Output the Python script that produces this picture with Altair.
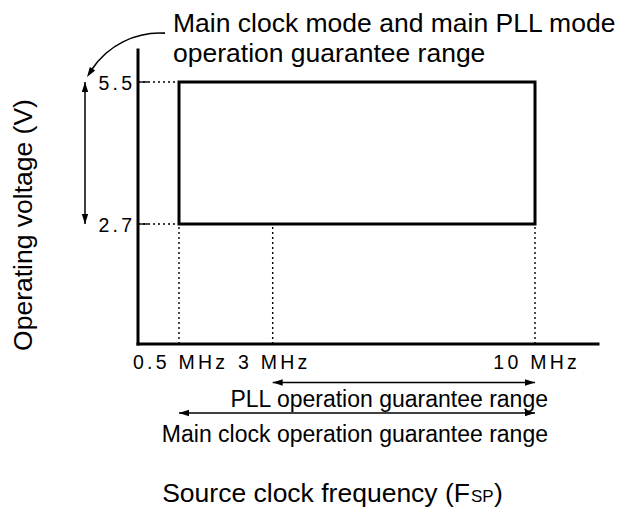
import altair as alt
import pandas as pd

# ---------------- data ----------------
freq_ticks = [0.5, 3, 10]                 # MHz
freq_labels = ["0.5 MHz", "3 MHz", "10 MHz"]
volt_ticks = [5.5, 2.7]                   # V
volt_labels = ["5.5", "2.7"]
box_freq = [0.5, 10]                      # main clock / main PLL mode range
box_volt = [2.7, 5.5]
range_start = [3, 0.5]
range_end = [10, 10]
range_labels = ["PLL operation guarantee range",
                "Main clock operation guarantee range"]
top_note = ["Main clock mode and main PLL mode", "operation guarantee range"]
y_title = "Operating voltage (V)"
x_title = ["Source clock frequency (F", "SP", ")"]

X_DOM = [-0.594, 11.681]
Y_DOM = [0.334, 6.131]
W, H = 460, 294
FONT = "Liberation Sans"
ARROW = "M0,0L-0.32,1L0.32,1Z"   # tip at the anchor point, pointing up
SP = "\u2006"

xs = alt.Scale(domain=X_DOM, nice=False, zero=False)
ys = alt.Scale(domain=Y_DOM, nice=False, zero=False)

def spaced(s):
    return SP.join(list(s))

one = pd.DataFrame({"k": [0]})

# axes lines
xa_df = pd.DataFrame({"x0": [X_DOM[0]], "x1": [X_DOM[1]], "y0": [Y_DOM[0]], "y1": [Y_DOM[1]]})
xaxis = alt.Chart(xa_df).mark_rule(color="black", strokeWidth=3, strokeCap="square").encode(
    x=alt.X("x0:Q", scale=xs, axis=None), x2="x1:Q",
    y=alt.Y("y0:Q", scale=ys, axis=None))
yaxis = alt.Chart(xa_df).mark_rule(color="black", strokeWidth=3, strokeCap="square").encode(
    x=alt.X("x0:Q", scale=xs, axis=None),
    y=alt.Y("y0:Q", scale=ys, axis=None), y2="y1:Q")

# rectangle
box_df = pd.DataFrame({"f0": [box_freq[0]], "f1": [box_freq[1]],
                       "v0": [box_volt[0]], "v1": [box_volt[1]]})
box = alt.Chart(box_df).mark_rect(fillOpacity=0, stroke="black", strokeWidth=3).encode(
    x=alt.X("f0:Q", scale=xs, axis=None),
    x2="f1:Q",
    y=alt.Y("v1:Q", scale=ys, axis=None),
    y2="v0:Q",
)

# dotted guide lines
hd_df = pd.DataFrame({"v": volt_ticks, "x0": [X_DOM[0]] * 2, "x1": [box_freq[0]] * 2})
hdot = alt.Chart(hd_df).mark_rule(color="black", strokeWidth=1.4, strokeDash=[2, 3]).encode(
    x=alt.X("x0:Q", scale=xs, axis=None), x2="x1:Q",
    y=alt.Y("v:Q", scale=ys, axis=None))

vd_df = pd.DataFrame({"f": freq_ticks, "y0": [Y_DOM[0]] * 3, "y1": [box_volt[0]] * 3})
vdot = alt.Chart(vd_df).mark_rule(color="black", strokeWidth=1.4, strokeDash=[2, 3]).encode(
    x=alt.X("f:Q", scale=xs, axis=None),
    y=alt.Y("y0:Q", scale=ys, axis=None), y2="y1:Q")

# inward y ticks
yt_df = pd.DataFrame({"v": volt_ticks, "label": [spaced(s) for s in volt_labels]})
ytick = alt.Chart(yt_df).mark_rule(color="black", strokeWidth=1.4).encode(
    x=alt.value(0), x2=alt.value(10),
    y=alt.Y("v:Q", scale=ys, axis=None))
ylab = alt.Chart(yt_df).mark_text(font=FONT, fontSize=19.5, align="right",
                                  baseline="middle", dy=2, color="black").encode(
    x=alt.value(-6), y=alt.Y("v:Q", scale=ys, axis=None), text="label:N")

xt_df = pd.DataFrame({"f": freq_ticks, "label": [spaced(s) for s in freq_labels]})
xlab = alt.Chart(xt_df).mark_text(font=FONT, fontSize=19.5, align="center",
                                  baseline="alphabetic", color="black").encode(
    x=alt.X("f:Q", scale=xs, axis=None), y=alt.value(319), text="label:N")

layers = [xaxis, yaxis, box, hdot, vdot, ytick, ylab, xlab]

# horizontal range arrows
arrow_y = [332.5, 363]
label_y = [357, 392]
for i in range(2):
    rdf = pd.DataFrame({"s": [range_start[i]], "e": [range_end[i]], "label": [range_labels[i]]})
    base = alt.Chart(rdf)
    layers.append(base.mark_rule(color="black", strokeWidth=1.5).encode(
        x=alt.X("s:Q", scale=xs, axis=None), x2="e:Q", y=alt.value(arrow_y[i])))
    layers.append(base.mark_point(shape=ARROW, size=400, filled=True, color="black",
                                  strokeWidth=0, opacity=1, angle=270).encode(
        x=alt.X("s:Q", scale=xs, axis=None), y=alt.value(arrow_y[i])))
    layers.append(base.mark_point(shape=ARROW, size=400, filled=True, color="black",
                                  strokeWidth=0, opacity=1, angle=90).encode(
        x=alt.X("e:Q", scale=xs, axis=None), y=alt.value(arrow_y[i])))
    layers.append(base.mark_text(font=FONT, fontSize=23, align="right",
                                 baseline="alphabetic", color="black").encode(
        x=alt.value(410), y=alt.value(label_y[i]), text="label:N"))

# vertical voltage arrow
va_df = pd.DataFrame({"v0": [box_volt[0]], "v1": [box_volt[1]]})
vb = alt.Chart(va_df)
layers.append(vb.mark_rule(color="black", strokeWidth=1.5).encode(
    x=alt.value(-53), y=alt.Y("v1:Q", scale=ys, axis=None), y2="v0:Q"))
layers.append(vb.mark_point(shape=ARROW, size=400, filled=True, color="black",
                            strokeWidth=0, opacity=1, angle=0).encode(
    x=alt.value(-53), y=alt.Y("v1:Q", scale=ys, axis=None)))
layers.append(vb.mark_point(shape=ARROW, size=400, filled=True, color="black",
                            strokeWidth=0, opacity=1, angle=180).encode(
    x=alt.value(-53), y=alt.Y("v0:Q", scale=ys, axis=None)))

# curved pointer arrow from the note
ob = alt.Chart(one)
layers.append(ob.mark_arc(innerRadius=81.2, outerRadius=82.8, theta=5.297, theta2=6.344,
                          color="black").encode(x=alt.value(22), y=alt.value(65)))
layers.append(ob.mark_point(shape=ARROW, size=400, filled=True, color="black",
                            strokeWidth=0, opacity=1, angle=213.5).encode(
    x=alt.value(-51), y=alt.value(27)))

# texts
layers.append(ob.mark_text(font=FONT, fontSize=26.5, align="left", baseline="alphabetic",
                           color="black", text=top_note[0]).encode(
    x=alt.value(35), y=alt.value(-18)))
layers.append(ob.mark_text(font=FONT, fontSize=26.5, align="left", baseline="alphabetic",
                           color="black", text=top_note[1]).encode(
    x=alt.value(35), y=alt.value(12)))
layers.append(ob.mark_text(font=FONT, fontSize=26.5, align="center", baseline="alphabetic",
                           color="black", angle=270, text=y_title).encode(
    x=alt.value(-106), y=alt.value(175)))
layers.append(ob.mark_text(font=FONT, fontSize=26.5, align="right", baseline="alphabetic",
                           color="black", text=x_title[0]).encode(
    x=alt.value(332), y=alt.value(452)))
layers.append(ob.mark_text(font=FONT, fontSize=17, align="left", baseline="alphabetic",
                           color="black", text=x_title[1]).encode(
    x=alt.value(333), y=alt.value(452)))
layers.append(ob.mark_text(font=FONT, fontSize=26.5, align="left", baseline="alphabetic",
                           color="black", text=x_title[2]).encode(
    x=alt.value(356), y=alt.value(452)))

chart = alt.layer(*layers).properties(
    width=W, height=H,
    autosize=alt.AutoSizeParams(type="none"),
    padding={"left": 130, "top": 42, "right": 24, "bottom": 170},
    background="white",
).configure_view(stroke=None)

chart.save("out.html", embed_options={"renderer": "svg", "actions": False})
